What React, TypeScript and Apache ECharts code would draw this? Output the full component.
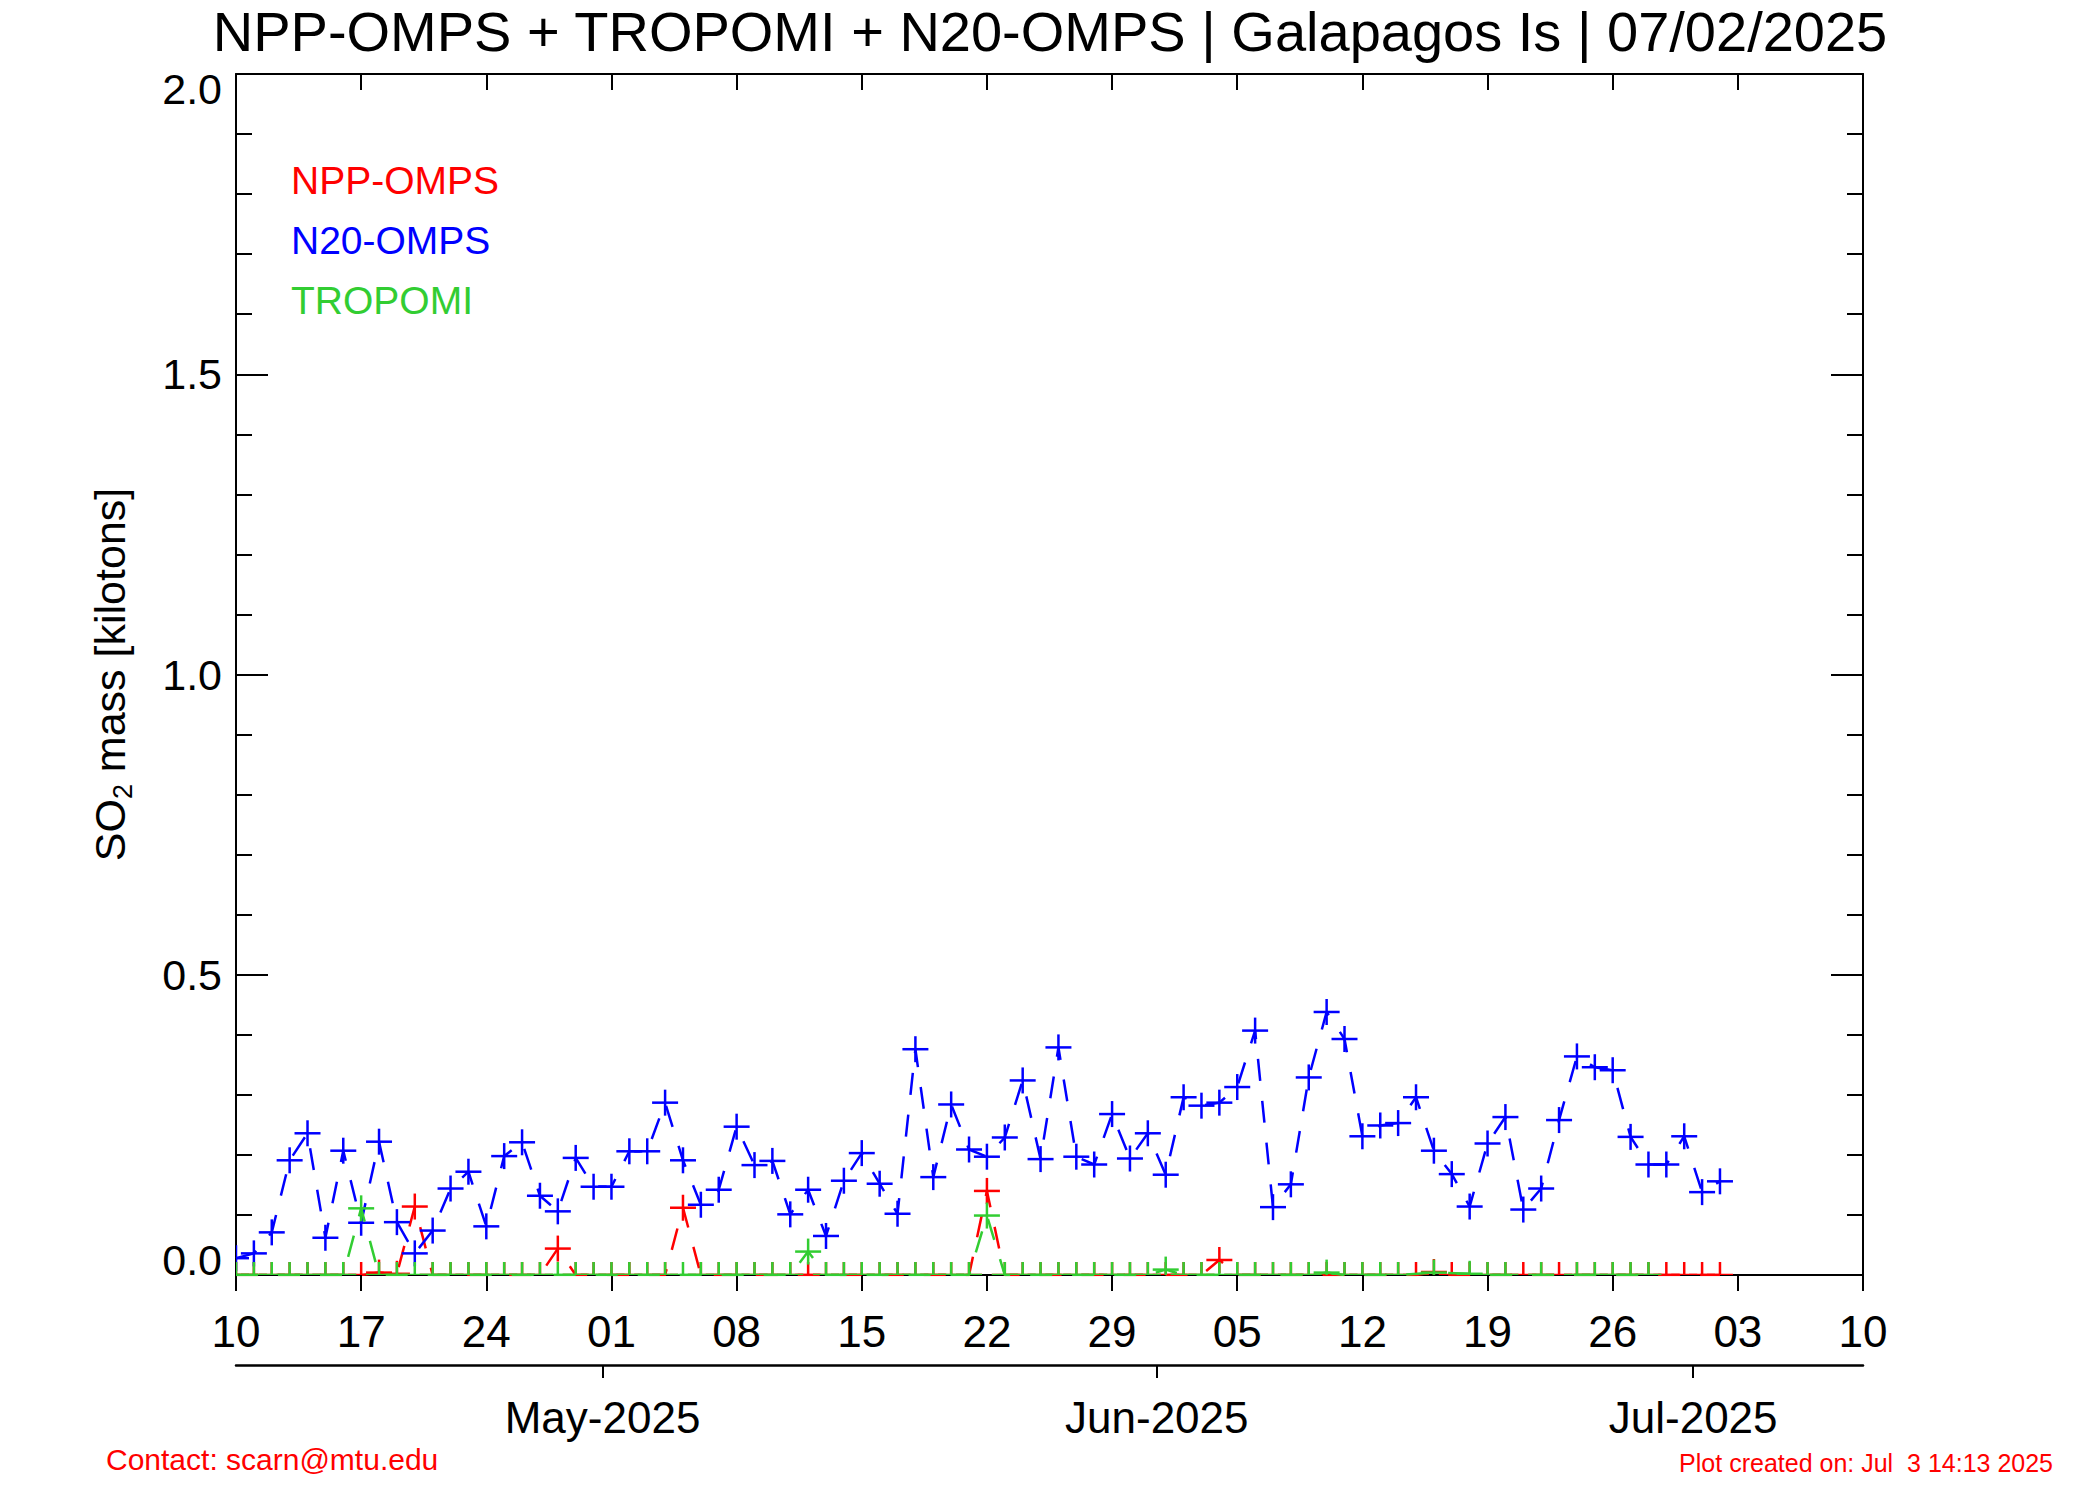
import React, { useEffect, useRef } from 'react';
import * as echarts from 'echarts';

// ---------------- data ----------------
const START_DATE = '2025-04-10';
const AXIS_END_DATE = '2025-07-10';
const WEEK_STEP_DAYS = 7;

const seriesNames = ['NPP-OMPS', 'N20-OMPS', 'TROPOMI'];
const seriesColors = ['#ff0000', '#0000ff', '#32cd32'];

// daily values starting 2025-04-10 (kilotons)
const nppValues = [
  0, 0, 0, 0, 0, 0, 0,
  0, 0.004, 0.002, 0.114, 0, 0, 0,
  0, 0, 0, 0, 0.044, 0, 0,
  0, 0, 0, 0, 0.112, 0, 0,
  0, 0, 0, 0, 0, 0, 0,
  0, 0, 0, 0, 0, 0, 0,
  0.14, 0, 0, 0, 0, 0, 0,
  0, 0, 0, 0, 0, 0, 0.025,
  0, 0, 0, 0, 0, 0, 0,
  0, 0, 0, 0, 0.005, 0, 0,
  0, 0, 0, 0, 0, 0, 0,
  0, 0, 0, 0, 0, 0, 0,
];

const n20Values = [
  0.028, 0.036, 0.071, 0.191, 0.236, 0.062, 0.207,
  0.087, 0.222, 0.088, 0.036, 0.074, 0.144, 0.172,
  0.081, 0.198, 0.221, 0.132, 0.106, 0.195, 0.147,
  0.147, 0.206, 0.206, 0.287, 0.191, 0.117, 0.142,
  0.247, 0.183, 0.19, 0.101, 0.142, 0.065, 0.157,
  0.203, 0.152, 0.102, 0.376, 0.163, 0.284, 0.209,
  0.197, 0.229, 0.324, 0.193, 0.379, 0.197, 0.184,
  0.268, 0.194, 0.236, 0.167, 0.296, 0.282, 0.287,
  0.313, 0.407, 0.113, 0.151, 0.329, 0.438, 0.393,
  0.231, 0.249, 0.253, 0.296, 0.207, 0.168, 0.114,
  0.219, 0.263, 0.109, 0.144, 0.258, 0.364, 0.346,
  0.341, 0.23, 0.184, 0.184, 0.231, 0.138, 0.156,
];

const tropomiValues = [
  0, 0, 0, 0, 0, 0, 0,
  0.111, 0, 0, 0, 0, 0, 0,
  0, 0, 0, 0, 0, 0, 0,
  0, 0, 0, 0, 0, 0, 0,
  0, 0, 0, 0, 0.039, 0, 0,
  0, 0, 0, 0, 0, 0, 0,
  0.099, 0, 0, 0, 0, 0, 0,
  0, 0, 0, 0.009, 0, 0, 0,
  0, 0, 0, 0, 0, 0.004, 0,
  0, 0, 0, null, 0.004, null, 0.002,
  0, 0, null, 0, null, 0, 0,
  0, 0, 0,
];

const monthStarts = ['2025-05-01', '2025-06-01', '2025-07-01'];
const monthLabels = ['May-2025', 'Jun-2025', 'Jul-2025'];

const titleText = 'NPP-OMPS + TROPOMI + N20-OMPS | Galapagos Is | 07/02/2025';
const contactText = 'Contact: scarn@mtu.edu';
const createdText = 'Plot created on: Jul  3 14:13 2025';
const yAxisMin = 0;
const yAxisMax = 2;
const yAxisStep = 0.5;

// ---------------- helpers ----------------
const FONT = "'Liberation Sans', Arial, Helvetica, sans-serif";
const DAY_MS = 86400000;
const startMs = Date.parse(START_DATE + 'T00:00:00Z');
const dayOffset = (s: string) => (Date.parse(s + 'T00:00:00Z') - startMs) / DAY_MS;
const axisMaxDay = dayOffset(AXIS_END_DATE);
// IDL month boundaries sit half a day before the daily sample grid
const monthPositions = monthStarts.map((m) => dayOffset(m) - 0.5);

const toPairs = (vals: (number | null)[]) => vals.map((v, i) => [i, v]);

const makeMarker = (color: string) => (params: any, api: any) => {
  const y = api.value(1);
  if (y === null || y === undefined || isNaN(y)) return null;
  const p = api.coord([api.value(0), y]);
  const h = 13;
  return {
    type: 'group',
    children: [
      { type: 'line', shape: { x1: p[0] - h, y1: p[1], x2: p[0] + h, y2: p[1] }, style: { stroke: color, lineWidth: 2.5 } },
      { type: 'line', shape: { x1: p[0], y1: p[1] - h, x2: p[0], y2: p[1] + h }, style: { stroke: color, lineWidth: 2.5 } },
    ],
  };
};

export default function App() {
  const ref = useRef<HTMLDivElement>(null);

  useEffect(() => {
    if (!ref.current) return;
    const chart = echarts.init(ref.current, undefined, { renderer: 'svg' });

    const valuesList = [nppValues, n20Values, tropomiValues];
    const series: any[] = [];
    valuesList.forEach((vals, i) => {
      const data = toPairs(vals);
      series.push({
        type: 'line',
        name: seriesNames[i],
        data,
        xAxisIndex: 0,
        yAxisIndex: 0,
        symbol: 'none',
        showSymbol: false,
        connectNulls: true,
        clip: true,
        z: 2 + i * 2,
        lineStyle: { color: seriesColors[i], width: 2.5, type: [22, 20] },
        itemStyle: { color: seriesColors[i] },
      });
      series.push({
        type: 'custom',
        name: seriesNames[i],
        data,
        xAxisIndex: 0,
        yAxisIndex: 0,
        encode: { x: 0, y: 1 },
        clip: true,
        z: 3 + i * 2,
        itemStyle: { color: seriesColors[i] },
        renderItem: makeMarker(seriesColors[i]),
      });
    });

    const axisLine = { show: true, onZero: false, lineStyle: { color: '#000', width: 2 } };

    const option: any = {
      animation: false,
      backgroundColor: '#ffffff',
      textStyle: { fontFamily: FONT },
      title: [
        {
          text: titleText,
          left: 'center',
          top: 3,
          padding: 0,
          textStyle: { fontSize: 56, fontWeight: 'normal', color: '#000', fontFamily: FONT },
        },
        {
          text: contactText,
          left: 106,
          top: 1444,
          padding: 0,
          textStyle: { fontSize: 30, fontWeight: 'normal', color: '#ff0000', fontFamily: FONT },
        },
        {
          text: createdText,
          right: 47,
          top: 1450,
          padding: 0,
          textStyle: { fontSize: 25, fontWeight: 'normal', color: '#ff0000', fontFamily: FONT },
        },
      ],
      legend: {
        data: seriesNames.map((n, i) => ({ name: n, textStyle: { color: seriesColors[i] } })),
        orient: 'vertical',
        left: 286,
        top: 161,
        padding: 0,
        itemWidth: 0,
        itemHeight: 0,
        itemGap: 21,
        selectedMode: false,
        icon: 'rect',
        textStyle: { fontSize: 39, fontFamily: FONT },
      },
      grid: {
        left: 236,
        right: 237,
        top: 74,
        bottom: 225,
        containLabel: false,
        outerBoundsMode: 'none',
      },
      xAxis: [
        {
          type: 'value',
          position: 'bottom',
          min: 0,
          max: axisMaxDay,
          interval: WEEK_STEP_DAYS,
          axisLine,
          splitLine: { show: false },
          axisTick: { show: true, inside: false, length: 16, lineStyle: { color: '#000', width: 2 } },
          axisLabel: {
            show: true,
            showMinLabel: true,
            showMaxLabel: true,
            margin: 34,
            fontSize: 44,
            color: '#000',
            fontFamily: FONT,
            formatter: (v: number) => {
              const d = new Date(startMs + v * DAY_MS);
              return String(d.getUTCDate()).padStart(2, '0');
            },
          },
        },
        {
          type: 'value',
          position: 'top',
          min: 0,
          max: axisMaxDay,
          interval: WEEK_STEP_DAYS,
          axisLine,
          splitLine: { show: false },
          axisTick: { show: true, inside: true, length: 16, lineStyle: { color: '#000', width: 2 } },
          axisLabel: { show: false },
        },
        {
          type: 'value',
          position: 'bottom',
          offset: 90,
          min: 0,
          max: axisMaxDay,
          axisLine: { show: true, onZero: false, lineStyle: { color: '#000', width: 2.5 } },
          splitLine: { show: false },
          axisTick: {
            show: true,
            inside: false,
            length: 13,
            customValues: monthPositions,
            lineStyle: { color: '#000', width: 2 },
          },
          axisLabel: {
            show: true,
            customValues: monthPositions,
            margin: 30,
            fontSize: 44,
            color: '#000',
            fontFamily: FONT,
            formatter: (v: number) => {
              const idx = monthPositions.findIndex((p) => Math.abs(p - v) < 1e-6);
              return idx >= 0 ? monthLabels[idx] : '';
            },
          },
        },
      ],
      yAxis: [
        {
          type: 'value',
          position: 'left',
          min: yAxisMin,
          max: yAxisMax,
          interval: yAxisStep,
          axisLine,
          splitLine: { show: false },
          axisTick: { show: true, inside: true, length: 32, lineStyle: { color: '#000', width: 2 } },
          minorTick: { show: true, splitNumber: 5, length: 16, lineStyle: { color: '#000', width: 2 } },
          axisLabel: {
            show: true,
            margin: 14,
            fontSize: 43,
            lineHeight: 30,
            color: '#000',
            fontFamily: FONT,
            verticalAlignMinLabel: 'bottom',
            verticalAlignMaxLabel: 'top',
            formatter: (v: number) => v.toFixed(1),
          },
          name: '{n|SO}{s|2}{n| mass [kilotons]}',
          nameLocation: 'middle',
          nameRotate: 90,
          nameGap: 100,
          nameTextStyle: {
            fontSize: 43,
            color: '#000',
            fontFamily: FONT,
            rich: {
              n: { fontSize: 43, color: '#000', fontFamily: FONT, lineHeight: 52 },
              s: { fontSize: 27, color: '#000', fontFamily: FONT, lineHeight: 27, verticalAlign: 'bottom' },
            },
          },
        },
        {
          type: 'value',
          position: 'right',
          min: yAxisMin,
          max: yAxisMax,
          interval: yAxisStep,
          axisLine,
          splitLine: { show: false },
          axisTick: { show: true, inside: true, length: 32, lineStyle: { color: '#000', width: 2 } },
          minorTick: { show: true, splitNumber: 5, length: 16, lineStyle: { color: '#000', width: 2 } },
          axisLabel: { show: false },
        },
      ],
      series,
    };

    chart.setOption(option);
    return () => chart.dispose();
  }, []);

  return (
    <div
      ref={ref}
      style={{ position: 'fixed', left: 0, top: 0, width: 2100, height: 1500, background: '#fff' }}
    />
  );
}
